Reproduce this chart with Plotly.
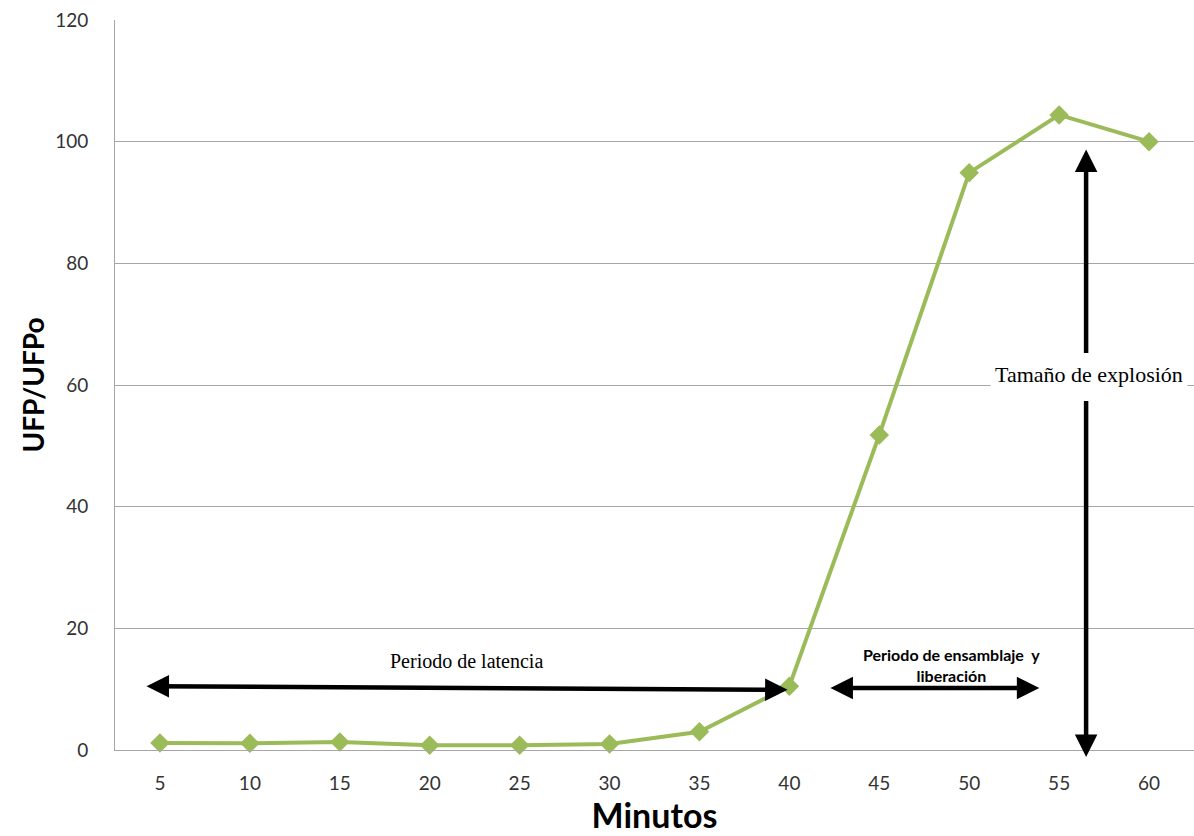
import plotly.graph_objects as go

minutes = [5, 10, 15, 20, 25, 30, 35, 40, 45, 50, 55, 60]
ufp_ratio = [1.15, 1.1, 1.3, 0.8, 0.8, 1.0, 3.0, 10.5, 51.8, 94.9, 104.4, 100.0]
y_ticks = [0, 20, 40, 60, 80, 100, 120]

green = "#9BBB59"
grid = "#A6A6A6"

fig = go.Figure()
fig.add_trace(go.Scatter(
    x=minutes, y=ufp_ratio, mode="lines+markers",
    line=dict(color=green, width=4),
    marker=dict(symbol="diamond", size=15, color=green),
    showlegend=False, cliponaxis=False,
))

ann = []
# Periodo de latencia double arrow
ann.append(dict(x=39.9, y=9.9, ax=4.17, ay=10.5, xref="x", yref="y", axref="x", ayref="y",
                text="", showarrow=True, arrowhead=2, startarrowhead=2, arrowside="end+start",
                arrowsize=1, startarrowsize=1, arrowwidth=4.5, arrowcolor="black",
                standoff=0, startstandoff=0))
ann.append(dict(x=22.06, y=14.6, xref="x", yref="y", text="Periodo de latencia", showarrow=False,
                font=dict(family="Liberation Serif", size=20, color="black")))
# Periodo de ensamblaje double arrow
ann.append(dict(x=53.9, y=10.2, ax=42.2, ay=10.2, xref="x", yref="y", axref="x", ayref="y",
                text="", showarrow=True, arrowhead=2, startarrowhead=2, arrowside="end+start",
                arrowsize=1, startarrowsize=1, arrowwidth=4.5, arrowcolor="black",
                standoff=0, startstandoff=0))
ann.append(dict(x=49.0, y=14.0, xref="x", yref="y",
                text="<b>Periodo de ensamblaje  y</b><br><b>liberación</b>", showarrow=False,
                font=dict(family="Lato", size=16, color="black")))
# Tamaño de explosión vertical arrows
ann.append(dict(x=56.5, y=98.7, ax=56.5, ay=65.0, xref="x", yref="y", axref="x", ayref="y",
                text="", showarrow=True, arrowhead=2, arrowsize=1, arrowwidth=4.5,
                arrowcolor="black", standoff=0))
ann.append(dict(x=56.5, y=-1.15, ax=56.5, ay=57.6, xref="x", yref="y", axref="x", ayref="y",
                text="", showarrow=True, arrowhead=2, arrowsize=1, arrowwidth=4.5,
                arrowcolor="black", standoff=0))
ann.append(dict(x=56.67, y=61.7, xref="x", yref="y", text="Tamaño de explosión", showarrow=False,
                bgcolor="white", borderpad=4,
                font=dict(family="Liberation Serif", size=22, color="black")))

fig.update_layout(
    width=1194, height=836,
    margin=dict(l=115, r=0, t=20, b=86),
    paper_bgcolor="white", plot_bgcolor="white",
    annotations=ann,
    xaxis=dict(
        range=[2.5, 62.5], tickvals=minutes, ticktext=[str(m) for m in minutes],
        showgrid=False, zeroline=False, showline=True, linecolor=grid, linewidth=1,
        ticks="", ticklabelstandoff=16, automargin=False,
        tickfont=dict(family="Lato", size=19, color="#333333"),
        title=dict(text="<b>Minutos</b>", font=dict(family="Lato", size=34, color="black"), standoff=4),
    ),
    yaxis=dict(
        range=[0, 120], tickvals=y_ticks,
        showgrid=True, gridcolor=grid, gridwidth=1, zeroline=False,
        showline=True, linecolor=grid, linewidth=1,
        ticks="", ticklabelstandoff=22, automargin=False,
        tickfont=dict(family="Lato", size=19, color="#333333"),
        title=dict(text="<b>UFP/UFPo</b>", font=dict(family="Lato", size=28, color="black"), standoff=2),
    ),
)

fig.write_html("out.html", config={"displayModeBar": False},
               post_script="document.body.style.margin='0';document.body.style.overflow='hidden';")
